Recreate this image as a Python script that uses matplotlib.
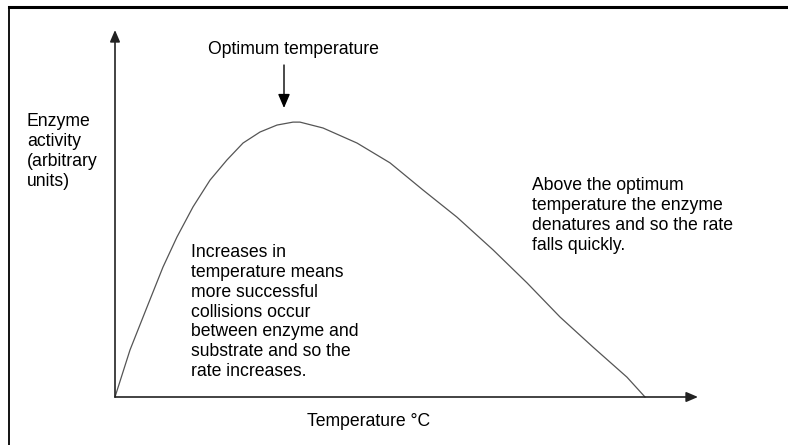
import matplotlib.pyplot as plt
from matplotlib.lines import Line2D
from matplotlib.patches import FancyArrowPatch

plt.rcParams['font.family'] = ['Liberation Sans', 'DejaVu Sans']

# curve (temperature 0-100, activity 0-100, arbitrary)
temperature = [0, 2.57, 5.49, 8.23, 10.63, 13.38, 16.30, 19.21, 21.96, 24.87, 27.79,
               30.53, 31.73, 35.68, 41.51, 47.17, 52.83, 58.66, 64.84, 70.67, 76.33,
               81.99, 87.82, 90.91]
activity = [0, 12.8, 24.5, 35.4, 43.6, 51.8, 59.1, 64.6, 69.2, 72.2, 74.1,
            74.9, 74.9, 73.3, 69.2, 63.8, 56.4, 49.0, 40.1, 31.1, 21.8,
            13.6, 5.4, 0]

W, H = 788, 445


def px(x, y):
    return x / W, 1 - y / H


fig = plt.figure(figsize=(W / 100, H / 100), dpi=100)
ax = fig.add_axes([115 / W, (H - 397) / H, 583 / W, 367 / H])
ax.set_xlim(0, 100)
ax.set_ylim(0, 100)
ax.axis('off')

ax.plot(temperature, activity, color='#555555', lw=0.9, clip_on=False,
        solid_joinstyle='round')

# axes drawn as arrows
arrow = dict(arrowstyle='-|>,head_length=0.7,head_width=0.3', color='#222222', lw=1.2,
             shrinkA=0, shrinkB=0)
ax.annotate('', xy=(100, 0), xytext=(0, 0), arrowprops=arrow, annotation_clip=False)
ax.annotate('', xy=(0, 100), xytext=(0, 0), arrowprops=arrow, annotation_clip=False)

# frame lines
fig.add_artist(Line2D([9 / W, 1], [1 - 6.5 / H] * 2, color='black', lw=2.2))
fig.add_artist(Line2D([9 / W] * 2, [0, 1 - 6.5 / H], color='black', lw=1.3))

fs = 12.7
ls = 1.22
fig.text(*px(208, 50), 'Optimum temperature', fontsize=fs, va='center', ha='left')
fig.text(*px(27, 113), 'Enzyme\nactivity\n(arbitrary\nunits)', fontsize=fs,
         va='top', ha='left', linespacing=ls)
fig.text(*px(307, 421), 'Temperature \u00b0C', fontsize=fs, va='center', ha='left')
fig.text(*px(191, 244), 'Increases in\ntemperature means\nmore successful\ncollisions occur\n'
         'between enzyme and\nsubstrate and so the\nrate increases.', fontsize=fs,
         va='top', ha='left', linespacing=ls)
fig.text(*px(532, 177), 'Above the optimum\ntemperature the enzyme\n'
         'denatures and so the rate\nfalls quickly.', fontsize=fs,
         va='top', ha='left', linespacing=ls)

fig.add_artist(FancyArrowPatch(
    px(284, 65), px(284, 108), transform=fig.transFigure,
    arrowstyle='-|>,head_length=0.7,head_width=0.3', mutation_scale=12,
    color='black', lw=1.0, shrinkA=0, shrinkB=0))

fig.savefig('out.png', dpi=100)
